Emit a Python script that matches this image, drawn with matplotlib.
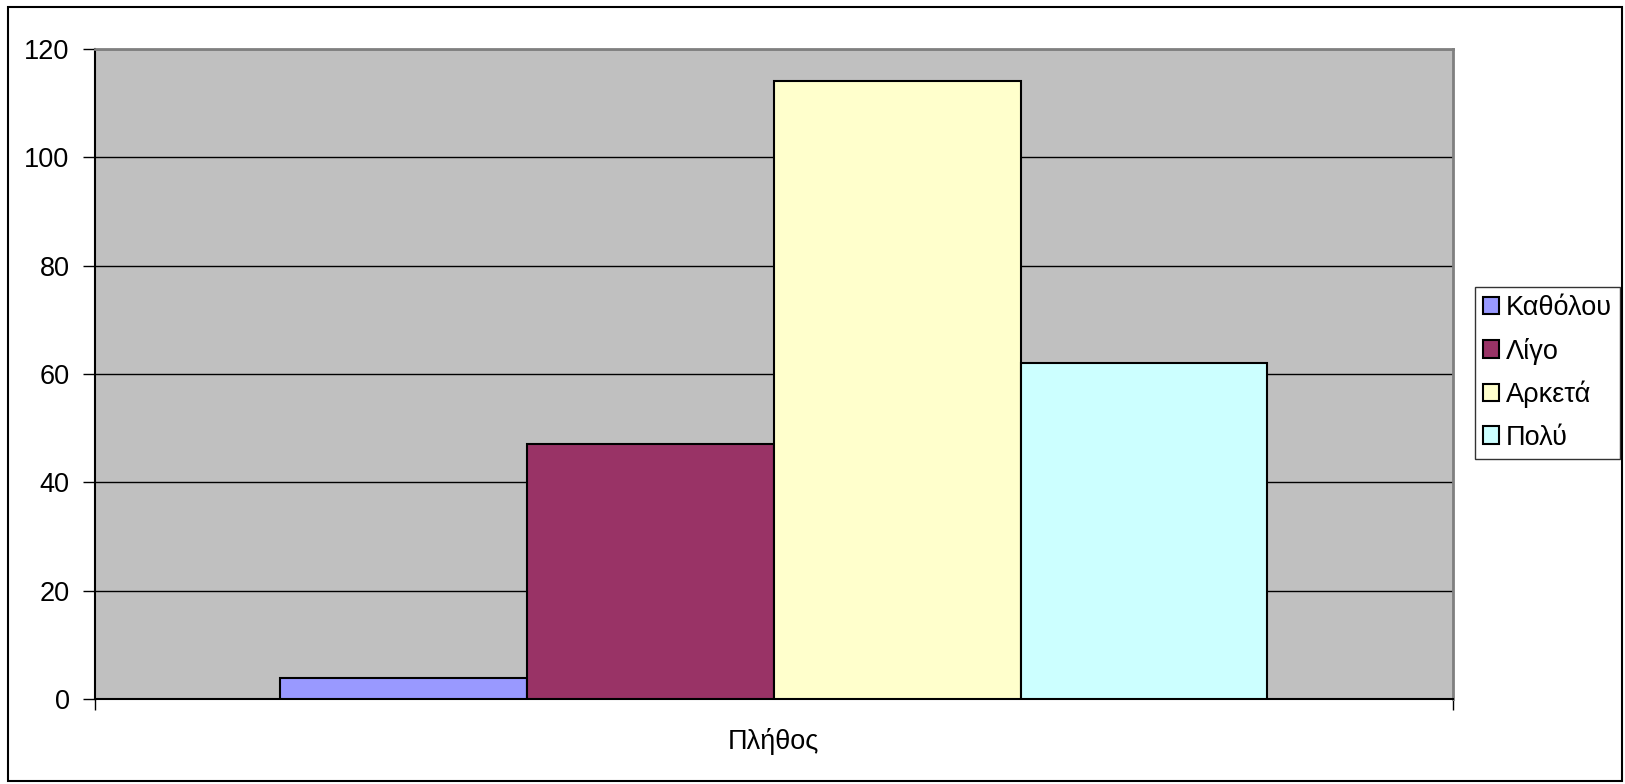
import matplotlib.pyplot as plt
from matplotlib.patches import Rectangle, Patch

plt.rcParams['font.family'] = ['Liberation Sans', 'DejaVu Sans']

categories = ['Πλήθος']
series = ['Καθόλου', 'Λίγο', 'Αρκετά', 'Πολύ']
values = [4, 47, 114, 62]
colors = ['#9999FF', '#993366', '#FFFFCC', '#CCFFFF']
yticks = [0, 20, 40, 60, 80, 100, 120]

W, H = 1625, 784
fig = plt.figure(figsize=(W / 100, H / 100), dpi=100)
ax = fig.add_axes([94.5 / W, 1 - 699.3 / H, (1452.7 - 94.5) / W, (699.3 - 48.7) / H])
ax.set_facecolor('#C0C0C0')

# excel-like clustered bars: gap width 150%
n = len(series)
bw = 1 / (n + 1.5)
for i, (name, v, c) in enumerate(zip(series, values, colors)):
    ax.bar(0 + (i - (n - 1) / 2) * bw, v, width=bw, color=c, edgecolor='black',
           linewidth=1.5, label=name, zorder=3)

ax.set_xlim(-0.5, 0.5)
ax.set_ylim(0, 120)
ax.set_yticks(yticks)
ax.yaxis.grid(True, color='black', linewidth=1)
ax.set_axisbelow(True)
ax.tick_params(axis='y', direction='out', length=9, width=1, labelsize=19.5, pad=9)

ax.set_xticks([0])
ax.set_xticklabels(categories)
ax.set_xticks([-0.5, 0.5], minor=True)
ax.tick_params(axis='x', which='major', length=0, labelsize=19.5, pad=21)
ax.tick_params(axis='x', which='minor', length=8, width=1, direction='out')

for s in ['top', 'right']:
    ax.spines[s].set_color('#808080')
    ax.spines[s].set_linewidth(2)
for s in ['left', 'bottom']:
    ax.spines[s].set_color('black')
    ax.spines[s].set_linewidth(1.5)

handles = [Patch(facecolor=c, edgecolor='black', linewidth=1.5) for c in colors]
leg = fig.legend(handles, series, loc='center left',
                 bbox_to_anchor=(1475 / W, 1 - 373 / H), fontsize=19.5,
                 frameon=True, fancybox=False, edgecolor='black',
                 handlelength=0.6, handleheight=0.6, handletextpad=0.25,
                 labelspacing=0.6, borderpad=0.3, borderaxespad=0)
leg.get_frame().set_linewidth(1)

fig.patches.append(Rectangle((8 / W, 1 - 781 / H), (1622 - 8) / W, (781 - 7) / H,
                             transform=fig.transFigure, fill=False,
                             edgecolor='black', linewidth=1.5))

fig.savefig('out.png', dpi=100)
